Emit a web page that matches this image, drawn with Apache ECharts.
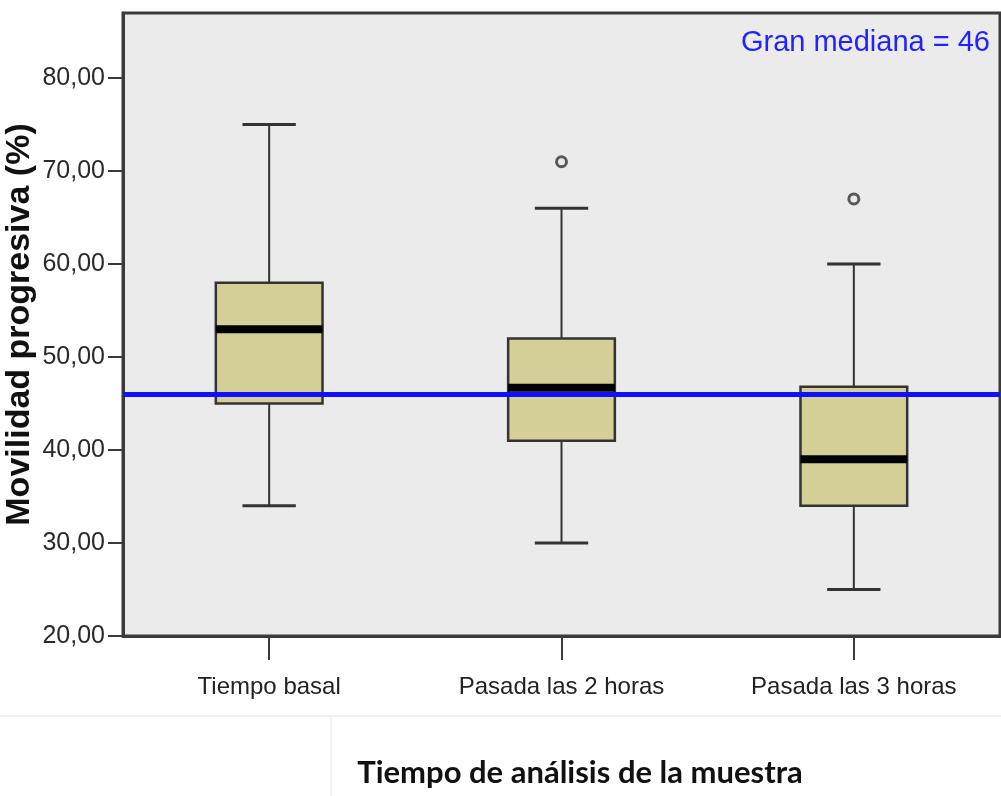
<!DOCTYPE html>
<html>
<head>
<meta charset="utf-8">
<script src="https://cdn.jsdelivr.net/npm/echarts@6/dist/echarts.min.js"></script>
<style>
html,body{margin:0;padding:0;background:#fff;}
#c{width:1001px;height:796px;}
</style>
</head>
<body>
<div id="c"></div>
<script>
const categories = ['Tiempo basal', 'Pasada las 2 horas', 'Pasada las 3 horas'];
const lowWhisker = [34, 30, 25];
const q1 = [45, 41, 34];
const median = [53, 46.7, 39];
const q3 = [58, 52, 46.8];
const highWhisker = [75, 66, 60];
const outliers = [[1, 71], [2, 67]];
const grandMedian = 46;
const yTicks = [20, 30, 40, 50, 60, 70, 80];
const yMin = 20, yMax = 87;

const sans = '"Liberation Sans", Arial, sans-serif';

const boxData = categories.map((c, i) => [i, lowWhisker[i], q1[i], median[i], q3[i], highWhisker[i]]);

const chart = echarts.init(document.getElementById('c'));
chart.setOption({
  animation: false,
  backgroundColor: '#ffffff',
  grid: {
    left: 123, top: 13, right: 1, bottom: 160,
    containLabel: false,
    outerBoundsMode: 'none',
    show: true, backgroundColor: '#ebebeb', borderColor: '#3a3a3a', borderWidth: 3
  },
  xAxis: {
    type: 'category',
    data: categories,
    boundaryGap: true,
    axisLine: { lineStyle: { color: '#3a3a3a', width: 3 } },
    axisTick: { show: true, alignWithLabel: true, interval: 0, length: 24, lineStyle: { color: '#3a3a3a', width: 2 } },
    axisLabel: { interval: 0, margin: 39, fontFamily: sans, fontSize: 24, color: '#222' },
    splitLine: { show: false },
    name: 'Tiempo de análisis de la muestra',
    nameLocation: 'middle',
    nameGap: 121,
    nameMoveOverlap: false,
    nameTextStyle: { fontFamily: 'Lato, "Open Sans", sans-serif', fontWeight: 'bold', fontSize: 31, color: '#111', padding: [0, 0, 0, 37] }
  },
  yAxis: {
    type: 'value',
    min: yMin, max: yMax, interval: 10,
    axisLine: { show: true, lineStyle: { color: '#3a3a3a', width: 3 } },
    axisTick: { show: true, length: 15, customValues: yTicks, lineStyle: { color: '#3a3a3a', width: 2 } },
    axisLabel: {
      customValues: yTicks,
      margin: 18, fontFamily: sans, fontSize: 25, color: '#2a2a2a',
      formatter: v => v.toFixed(2).replace('.', ',')
    },
    splitLine: { show: false },
    name: 'Movilidad progresiva (%)',
    nameLocation: 'middle',
    nameRotate: 90,
    nameGap: 86,
    nameMoveOverlap: false,
    nameTextStyle: { fontFamily: sans, fontWeight: 'bold', fontSize: 34, color: '#111' }
  },
  graphic: [
    { type: 'text', right: 11, top: 28, z: 100,
      style: { text: 'Gran mediana = ' + grandMedian, fontFamily: sans, fontSize: 29, fill: '#2222ff' } },
    { type: 'line', shape: { x1: 0, y1: 716, x2: 1001, y2: 716 }, style: { stroke: '#f1f1f1', lineWidth: 2 } },
    { type: 'line', shape: { x1: 331, y1: 716, x2: 331, y2: 796 }, style: { stroke: '#f1f1f1', lineWidth: 2 } }
  ],
  series: [
    {
      type: 'custom',
      z: 2,
      data: boxData,
      encode: { x: 0, y: [1, 2, 3, 4, 5] },
      renderItem: function (params, api) {
        const i = api.value(0);
        const pLow = api.coord([i, api.value(1)]);
        const pQ1 = api.coord([i, api.value(2)]);
        const pMed = api.coord([i, api.value(3)]);
        const pQ3 = api.coord([i, api.value(4)]);
        const pHigh = api.coord([i, api.value(5)]);
        const band = api.size([1, 0])[0];
        const bw = band * 0.365;
        const cw = bw * 0.5;
        const cx = pLow[0];
        const stroke = '#333333';
        return {
          type: 'group',
          children: [
            { type: 'line', shape: { x1: cx, y1: pHigh[1], x2: cx, y2: pQ3[1] }, style: { stroke: stroke, lineWidth: 2 } },
            { type: 'line', shape: { x1: cx, y1: pQ1[1], x2: cx, y2: pLow[1] }, style: { stroke: stroke, lineWidth: 2 } },
            { type: 'line', shape: { x1: cx - cw / 2, y1: pHigh[1], x2: cx + cw / 2, y2: pHigh[1] }, style: { stroke: stroke, lineWidth: 3 } },
            { type: 'line', shape: { x1: cx - cw / 2, y1: pLow[1], x2: cx + cw / 2, y2: pLow[1] }, style: { stroke: stroke, lineWidth: 3 } },
            { type: 'rect', shape: { x: cx - bw / 2, y: pQ3[1], width: bw, height: pQ1[1] - pQ3[1] }, style: { fill: '#d4cf97', stroke: stroke, lineWidth: 2.5 } },
            { type: 'line', shape: { x1: cx - bw / 2, y1: pMed[1], x2: cx + bw / 2, y2: pMed[1] }, style: { stroke: '#000000', lineWidth: 8 } }
          ]
        };
      }
    },
    {
      type: 'scatter',
      z: 3,
      data: outliers,
      symbol: 'circle',
      symbolSize: 10,
      itemStyle: { color: '#ebebeb', borderColor: '#333333', borderWidth: 3 },
      markLine: {
        silent: true,
        symbol: 'none',
        label: { show: false },
        lineStyle: { color: '#1010ff', width: 5, type: 'solid' },
        data: [{ yAxis: grandMedian }]
      }
    }
  ]
});
</script>
</body>
</html>
